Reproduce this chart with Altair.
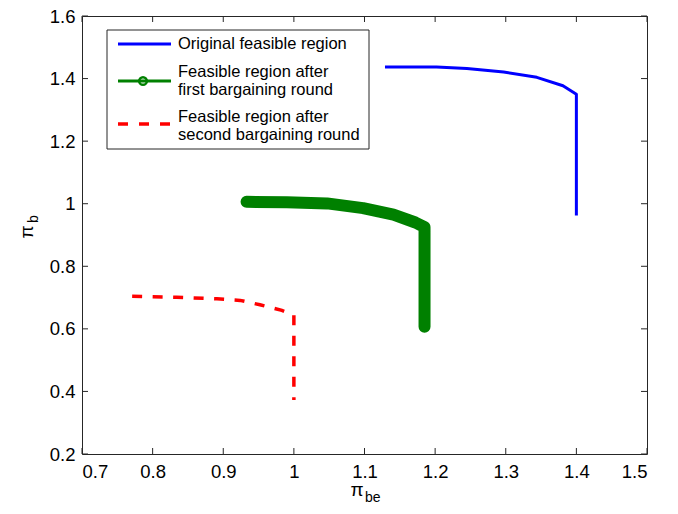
import altair as alt
import pandas as pd

# ---- data ----
blue_x = [1.129, 1.202, 1.245, 1.297, 1.344, 1.381, 1.400, 1.400]
blue_y = [1.437, 1.437, 1.432, 1.421, 1.404, 1.377, 1.350, 0.962]

green_x = [0.933, 0.990, 1.047, 1.098, 1.141, 1.172, 1.185, 1.185]
green_y = [1.006, 1.005, 1.001, 0.986, 0.965, 0.940, 0.925, 0.607]

red_x = [0.771, 0.834, 0.891, 0.924, 0.952, 0.983, 1.000, 1.000]
red_y = [0.704, 0.701, 0.696, 0.691, 0.677, 0.659, 0.644, 0.373]

x_ticks = [0.7, 0.8, 0.9, 1.0, 1.1, 1.2, 1.3, 1.4, 1.5]
y_ticks = [0.2, 0.4, 0.6, 0.8, 1.0, 1.2, 1.4, 1.6]

legend_labels = [
    ["Original feasible region"],
    ["Feasible region after", "first bargaining round"],
    ["Feasible region after", "second bargaining round"],
]

FONT = "Liberation Sans"
W, H = 565, 438

xs = alt.Scale(domain=[0.7, 1.5], nice=False, zero=False)
ys = alt.Scale(domain=[0.2, 1.6], nice=False, zero=False)
xaxis = alt.Axis(values=x_ticks, format="~g", title=None, labelPadding=8,
                 tickSize=0, ticks=False, domain=False, grid=False)
yaxis = alt.Axis(values=y_ticks, format="~g", title=None, labelPadding=7,
                 tickSize=0, ticks=False, domain=False, grid=False)
X = alt.X("x:Q", scale=xs, axis=xaxis)
Y = alt.Y("y:Q", scale=ys, axis=yaxis)


def series(xv, yv):
    return pd.DataFrame({"x": xv, "y": yv, "i": list(range(len(xv)))})


blue = alt.Chart(series(blue_x, blue_y)).mark_line(
    color="#0000FF", strokeWidth=3, strokeJoin="round"
).encode(x=X, y=Y, order="i:Q")

green = alt.Chart(series(green_x, green_y)).mark_line(
    color="#008000", strokeWidth=12, strokeJoin="round", strokeCap="round"
).encode(x=X, y=Y, order="i:Q")

red = alt.Chart(series(red_x, red_y)).mark_line(
    color="#FF0000", strokeWidth=3.5, strokeDash=[10, 10.5]
).encode(x=X, y=Y, order="i:Q")

# inward ticks (MATLAB style) on all four sides
xt = pd.DataFrame({"x": x_ticks})
yt = pd.DataFrame({"y": y_ticks})
tick_style = dict(color="#262626", strokeWidth=1)
xt_bot = alt.Chart(xt).mark_rule(**tick_style).encode(x=X, y=alt.value(H), y2=alt.value(H - 6))
xt_top = alt.Chart(xt).mark_rule(**tick_style).encode(x=X, y=alt.value(0), y2=alt.value(6))
yt_left = alt.Chart(yt).mark_rule(**tick_style).encode(y=Y, x=alt.value(0), x2=alt.value(6))
yt_right = alt.Chart(yt).mark_rule(**tick_style).encode(y=Y, x=alt.value(W), x2=alt.value(W - 6))

one = alt.Data(values=[{"a": 1}])


def txt(s, x, y, size=16.5, align="left", angle=0):
    return alt.Chart(one).mark_text(
        text=s, font=FONT, fontSize=size, align=align, baseline="middle",
        angle=angle, color="black"
    ).encode(x=alt.value(x), y=alt.value(y))


# legend
leg_box = alt.Chart(one).mark_rect(fill="white", stroke="#262626", strokeWidth=1).encode(
    x=alt.value(25), x2=alt.value(287), y=alt.value(14), y2=alt.value(133)
)
s1 = alt.Chart(one).mark_rule(color="#0000FF", strokeWidth=3).encode(
    x=alt.value(36), x2=alt.value(89), y=alt.value(28))
s2 = alt.Chart(one).mark_rule(color="#008000", strokeWidth=3).encode(
    x=alt.value(36), x2=alt.value(89), y=alt.value(65))
s2p = alt.Chart(one).mark_point(shape="circle", filled=False, color="#008000",
                                strokeWidth=2.5, size=60, opacity=1).encode(
    x=alt.value(61), y=alt.value(65))
s3 = alt.Chart(one).mark_rule(color="#FF0000", strokeWidth=3.5, strokeDash=[10, 11]).encode(
    x=alt.value(36), x2=alt.value(89), y=alt.value(108))

texts = [
    txt(legend_labels[0][0], 96, 28),
    txt(legend_labels[1][0], 96, 56),
    txt(legend_labels[1][1], 96, 74),
    txt(legend_labels[2][0], 96, 101),
    txt(legend_labels[2][1], 96, 119),
]

# axis titles with subscripts
xtitle = [txt("π", 275, 474, size=19, align="center"),
          txt("be", 283, 482, size=14)]
ytitle = [txt("π", -55, 216, size=19, align="center", angle=270),
          txt("b", -48, 207, size=14, angle=270)]

chart = alt.layer(
    blue, green, red, xt_bot, xt_top, yt_left, yt_right,
    leg_box, s1, s2, s2p, s3, *texts, *xtitle, *ytitle
).properties(
    width=W, height=H,
    autosize=alt.AutoSizeParams(type="none"),
    padding={"left": 74, "top": 8, "right": 20, "bottom": 50},
).configure_view(
    stroke="#262626", strokeWidth=1
).configure_axis(
    labelFont=FONT, labelFontSize=18.5, labelColor="black"
)

chart.save("out.html", embed_options={"renderer": "svg", "actions": False})
